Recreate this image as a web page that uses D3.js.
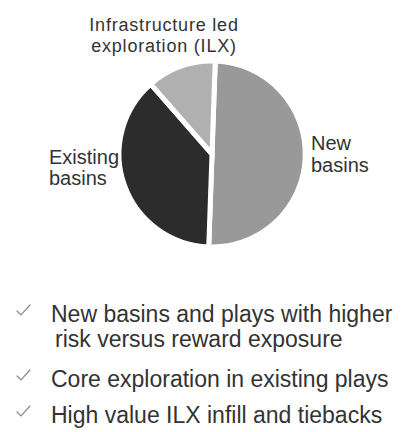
<!DOCTYPE html>
<html>
<head>
<meta charset="utf-8">
<script src="https://cdn.jsdelivr.net/npm/d3@7"></script>
<style>
  body { margin: 0; background: #fff; }
  svg text { font-family: "Liberation Sans", Arial, sans-serif; fill: #333; }
</style>
</head>
<body>
<div id="chart"></div>
<script>
// data ************************************************************
var categories = ["New basins", "Existing basins", "Infrastructure led exploration (ILX)"];
var shares = [50, 38, 12];
var sliceLabels = [["New", "basins"], ["Existing", "basins"], ["Infrastructure led", "exploration (ILX)"]];
var bullets = [
  ["New basins and plays with higher", "risk versus reward exposure"],
  ["Core exploration in existing plays"],
  ["High value ILX infill and tiebacks"]
];

// variables ************************************************************
var width = 409, height = 432;
var cx = 212, cy = 154, radius = 93;
var color = d3.scaleOrdinal().domain(categories).range(["#999999", "#2c2c2c", "#b0b0b0"]);
var rad = Math.PI / 180;

var svg = d3.select("#chart").append("svg")
  .attr("width", width).attr("height", height);

// pie ************************************************************
var pie = d3.pie().sort(null)
  .startAngle(2 * rad).endAngle(362 * rad)
  .value(function(d, i) { return shares[i]; });

var arc = d3.arc().innerRadius(0).outerRadius(radius);

var g = svg.append("g").attr("transform", "translate(" + cx + "," + cy + ")");

g.selectAll("path")
  .data(pie(categories))
  .enter().append("path")
  .attr("d", arc)
  .attr("fill", function(d) { return color(d.data); })
  .attr("stroke", "#fff")
  .attr("stroke-width", 5)
  .attr("stroke-linejoin", "miter");

// slice labels ************************************************************
var labelPos = [
  { x: 99, y: -4, anchor: "start", size: 20, lh: 22, ls: 0 },
  { x: -163, y: 10, anchor: "start", size: 20, lh: 21, ls: 0 },
  { x: -48, y: -123, anchor: "middle", size: 18, lh: 21, ls: 0.8 }
];

sliceLabels.forEach(function(lines, i) {
  var p = labelPos[i];
  var t = g.append("text")
    .attr("x", p.x).attr("y", p.y)
    .attr("text-anchor", p.anchor)
    .style("font-size", p.size + "px")
    .style("letter-spacing", p.ls + "px");
  lines.forEach(function(l, j) {
    t.append("tspan").attr("x", p.x).attr("dy", j ? p.lh : 0).text(l);
  });
});

// bullet list ************************************************************
var bulletY = [322, 387, 423];
var list = svg.append("g");

bullets.forEach(function(lines, i) {
  var y = bulletY[i];
  list.append("path")
    .attr("d", "M17," + (y - 11) + " l4,4 l9,-10")
    .attr("fill", "none")
    .attr("stroke", "#8a8a8a")
    .attr("stroke-width", 1.2)
    .attr("stroke-linecap", "round");
  var t = list.append("text").attr("x", 51).attr("y", y).style("font-size", "23px");
  lines.forEach(function(l, j) {
    t.append("tspan").attr("x", j ? 55 : 51).attr("dy", j ? 25 : 0).text(l);
  });
});
</script>
</body>
</html>
